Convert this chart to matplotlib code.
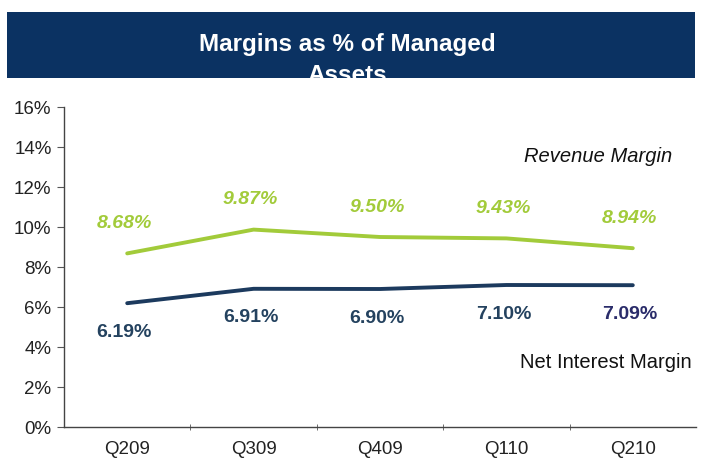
import matplotlib
matplotlib.use("Agg")
import matplotlib.pyplot as plt
from matplotlib.patches import Rectangle
from matplotlib.ticker import FixedLocator

plt.rcParams['font.family'] = ['Liberation Sans', 'DejaVu Sans']

quarters = ["Q209", "Q309", "Q409", "Q110", "Q210"]
revenue_margin = [8.68, 9.87, 9.50, 9.43, 8.94]
net_interest_margin = [6.19, 6.91, 6.90, 7.10, 7.09]
yticks = [0, 2, 4, 6, 8, 10, 12, 14, 16]
title_lines = ["Margins as % of Managed", "Assets"]

green = "#A2CB3A"
navy = "#1C3A5E"
nim_label_colors = ["#24425F", "#24425F", "#24425F", "#24425F", "#2A2C6A"]

W, H = 701, 465
fig = plt.figure(figsize=(W / 100, H / 100), dpi=100)

# Title banner
banner = Rectangle((7 / W, 1 - 78 / H), (695 - 7) / W, (78 - 12) / H,
                   transform=fig.transFigure, facecolor="#0B3262", edgecolor="none")
fig.patches.append(banner)
for i, line in enumerate(title_lines):
    t = fig.text(347 / W, 1 - (45 + 30 * i) / H, line, ha="center", va="center",
                 color="white", fontsize=17.5, fontweight="bold")
    t.set_clip_path(banner)

ax = fig.add_axes([64 / W, 1 - 427 / H, (696 - 64) / W, (427 - 107) / H])
x = list(range(len(quarters)))
ax.plot(x, revenue_margin, color=green, lw=2.8, solid_capstyle="round")
ax.plot(x, net_interest_margin, color=navy, lw=2.8, solid_capstyle="round")

for xi, v in zip(x, revenue_margin):
    ax.annotate(f"{v:.2f}%", (xi, v), xytext=(-3, 30), textcoords="offset pixels",
                ha="center", va="center", color=green, fontsize=14,
                fontweight="bold", fontstyle="italic")
for xi, v, c in zip(x, net_interest_margin, nim_label_colors):
    ax.annotate(f"{v:.2f}%", (xi, v), xytext=(-3, -29), textcoords="offset pixels",
                ha="center", va="center", color=c, fontsize=14, fontweight="bold")

ax.set_xlim(-0.5, len(quarters) - 0.5)
ax.set_ylim(0, 16)
ax.set_yticks(yticks)
ax.set_yticklabels([f"{v}%" for v in yticks])
ax.set_xticks(x)
ax.set_xticklabels(quarters)
ax.xaxis.set_minor_locator(FixedLocator([i + 0.5 for i in range(len(quarters) - 1)]))
ax.tick_params(axis="x", which="major", length=0, pad=10, labelsize=13.5, colors="#222222")
ax.tick_params(axis="x", which="minor", length=5, direction="inout", color="#555555")
ax.tick_params(axis="y", length=5, direction="out", labelsize=13.5, colors="#222222",
               color="#555555", pad=4)
for s in ["top", "right"]:
    ax.spines[s].set_visible(False)
for s in ["left", "bottom"]:
    ax.spines[s].set_color("#444444")
    ax.spines[s].set_linewidth(1.0)

fig.text(598 / W, 1 - 156 / H, "Revenue Margin", ha="center", va="center",
         fontsize=14.5, fontstyle="italic", color="#111111")
fig.text(606 / W, 1 - 362 / H, "Net Interest Margin", ha="center", va="center",
         fontsize=14.5, color="#111111")

fig.savefig("out.png", dpi=100, facecolor="white")
